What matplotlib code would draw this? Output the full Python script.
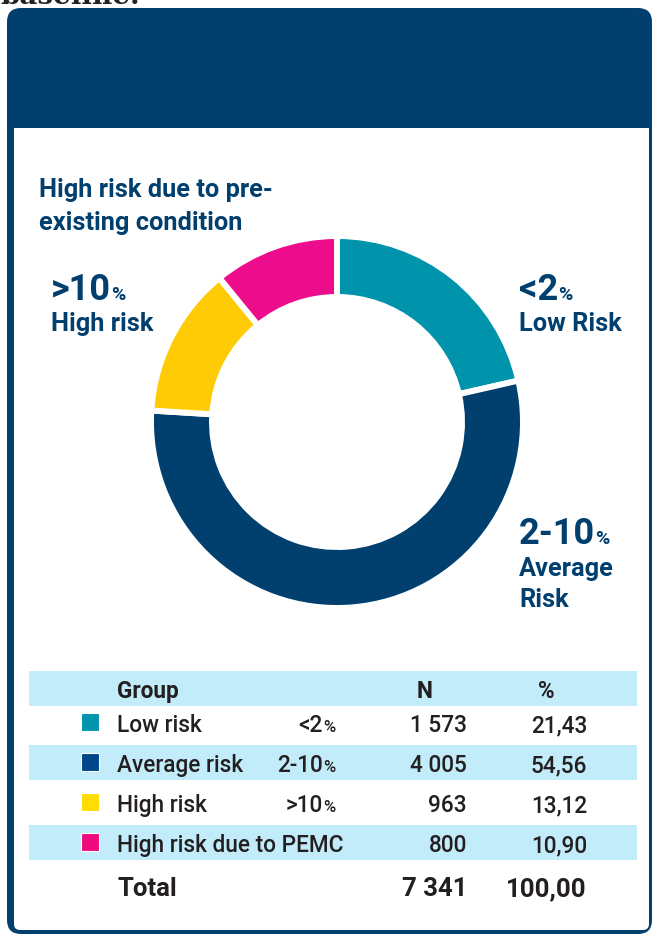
import numpy as np
import matplotlib as mpl
mpl.use('Agg')
import matplotlib.pyplot as plt
from matplotlib.patches import FancyBboxPatch, Rectangle

plt.rcParams['font.family'] = ['Roboto', 'DejaVu Sans']

# data
groups = ['Low risk', 'Average risk', 'High risk', 'High risk due to PEMC']
ranges = ['<2', '2-10', '>10', '']
counts = ['1 573', '4 005', '963', '800']
shares = [21.43, 54.56, 13.12, 10.90]
share_txt = ['21,43', '54,56', '13,12', '10,90']
total_n = '7 341'
total_pct = '100,00'

ring_colors = ['#0093AC', '#003F6E', '#FFCB05', '#EC0C8C']
square_colors = ['#0094AD', '#00468A', '#FFDD00', '#EE0A7C']
navy = '#003F6E'
band = '#C2ECF9'
ink = '#231F20'

W, H = 653, 937
fig = plt.figure(figsize=(W/100, H/100), dpi=100, facecolor='white')
ax = fig.add_axes([0, 0, 1, 1])
ax.set_xlim(0, W)
ax.set_ylim(H, 0)
ax.axis('off')

# text above the card, cut off by the top edge as in the original
ax.text(0, 4, 'baseline.', family='DejaVu Serif', weight='bold', fontsize=20,
        color='#222222', va='baseline', ha='left')

# card: navy frame + header, white body
ax.add_patch(FancyBboxPatch((7, 9), 645, 926, boxstyle='round,pad=0,rounding_size=14',
                            fc=navy, ec='none'))
ax.add_patch(Rectangle((14, 129), 635, 790, fc='white', ec='none'))
ax.add_patch(FancyBboxPatch((14, 880), 635, 51, boxstyle='round,pad=0,rounding_size=6',
                            fc='white', ec='none'))

# donut
pax = fig.add_axes([(337-200)/W, (H-423-200)/H, 400/W, 400/H])
pax.pie(shares, colors=ring_colors, startangle=90, counterclock=False, radius=186,
        wedgeprops=dict(width=61, edgecolor='white', linewidth=4.3))
pax.set_xlim(-200, 200)
pax.set_ylim(-200, 200)
pax.set_aspect('equal')
pax.axis('off')

fig.canvas.draw()
rend = fig.canvas.get_renderer()

def width_px(t):
    return t.get_window_extent(renderer=rend).width

def big_pct(x, y, num, size, small):
    t = ax.text(x, y, num, fontsize=size, weight='bold', color=navy, va='baseline', ha='left')
    ax.text(x + width_px(t), y, '%', fontsize=small, weight='bold', color=navy,
            va='baseline', ha='left')

# ring labels
lab = 18.3
ax.text(39, 197, 'High risk due to pre-', fontsize=lab, weight='bold', color=navy, va='baseline')
ax.text(39, 230, 'existing condition', fontsize=lab, weight='bold', color=navy, va='baseline')
big_pct(51, 300, '>10', 26, 14)
ax.text(51, 331, 'High risk', fontsize=lab, weight='bold', color=navy, va='baseline')
big_pct(519, 300, '<2', 26, 14)
ax.text(519, 331, 'Low Risk', fontsize=lab, weight='bold', color=navy, va='baseline')
big_pct(519, 544, '2-10', 26, 14)
ax.text(519, 576, 'Average', fontsize=lab, weight='bold', color=navy, va='baseline')
ax.text(519, 607, 'Risk', fontsize=lab, weight='bold', color=navy, va='baseline')

# table
fs = 16.3
ax.add_patch(Rectangle((29, 672), 608, 35, fc=band, ec='none'))
ax.text(117, 698, 'Group', fontsize=fs, weight='bold', color=ink, va='baseline')
ax.text(425, 698, 'N', fontsize=fs, weight='bold', color=ink, va='baseline', ha='center')
ax.text(546, 698, '%', fontsize=fs, weight='bold', color=ink, va='baseline', ha='center')

baselines = [732, 772, 812, 852]
for i, g in enumerate(groups):
    yb = baselines[i]
    if i % 2 == 1:
        ax.add_patch(Rectangle((29, yb - 26), 608, 35, fc=band, ec='none'))
    ax.add_patch(Rectangle((81, yb - 18), 18, 18, fc=square_colors[i], ec='white', lw=0.8))
    ax.text(117, yb, g, fontsize=fs, weight='medium', color=ink, va='baseline')
    if ranges[i]:
        p = ax.text(335, yb, '%', fontsize=12, weight='medium', color=ink,
                    va='baseline', ha='right')
        ax.text(335 - width_px(p), yb, ranges[i], fontsize=fs, weight='medium', color=ink,
                va='baseline', ha='right')
    ax.text(467, yb, counts[i], fontsize=fs, weight='medium', color=ink, va='baseline', ha='right')
    ax.text(587, yb, share_txt[i], fontsize=fs, weight='medium', color=ink, va='baseline', ha='right')

ax.text(117, 896, 'Total', fontsize=18.5, weight='bold', color=ink, va='baseline')
ax.text(467, 896, total_n, fontsize=18.5, weight='bold', color=ink, va='baseline', ha='right')
ax.text(587, 896, total_pct, fontsize=18.5, weight='bold', color=ink, va='baseline', ha='right')

fig.savefig('out.png', dpi=100, facecolor='white')
